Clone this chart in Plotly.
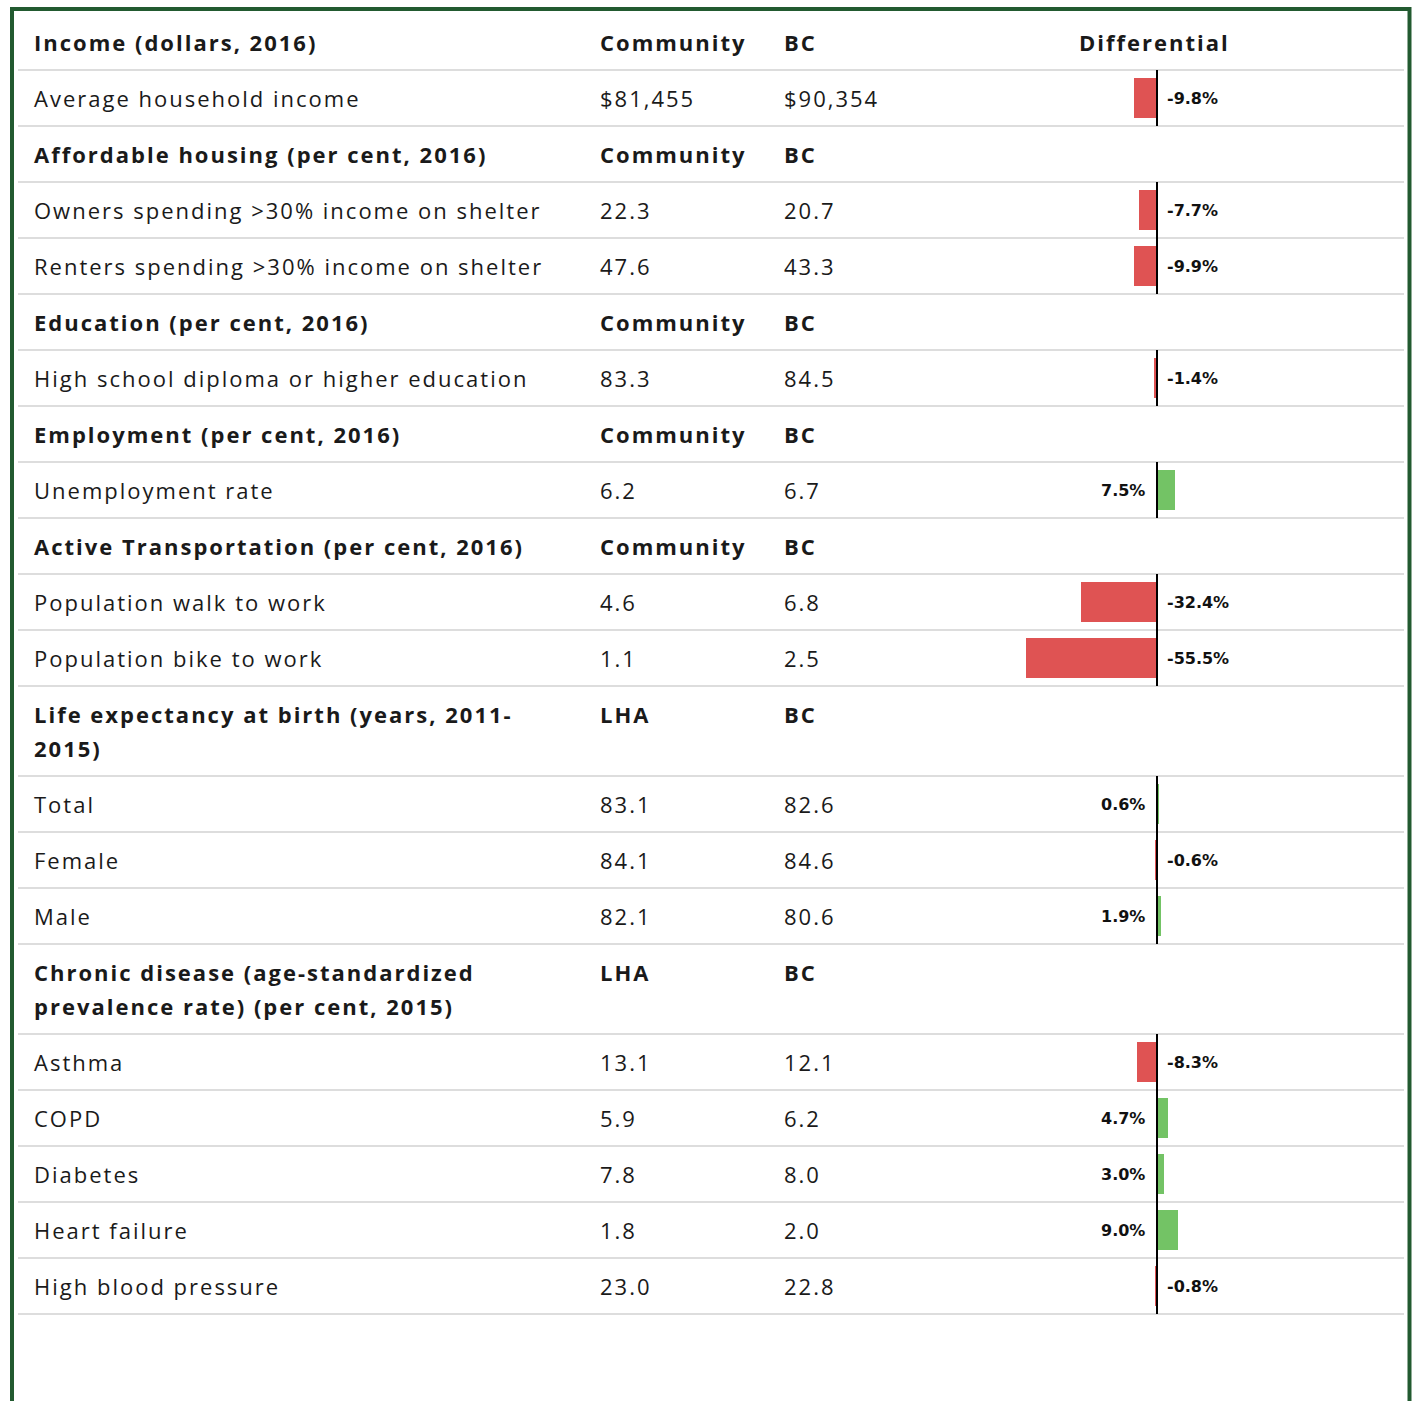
import plotly.graph_objects as go

# ---------------- data ----------------
row_labels = [
    "Income (dollars, 2016)",
    "Average household income",
    "Affordable housing (per cent, 2016)",
    "Owners spending >30% income on shelter",
    "Renters spending >30% income on shelter",
    "Education (per cent, 2016)",
    "High school diploma or higher education",
    "Employment (per cent, 2016)",
    "Unemployment rate",
    "Active Transportation (per cent, 2016)",
    "Population walk to work",
    "Population bike to work",
    "Life expectancy at birth (years, 2011-|2015)",
    "Total",
    "Female",
    "Male",
    "Chronic disease (age-standardized|prevalence rate) (per cent, 2015)",
    "Asthma",
    "COPD",
    "Diabetes",
    "Heart failure",
    "High blood pressure",
]
is_header = [True, False, True, False, False, True, False, True, False, True, False, False,
             True, False, False, False, True, False, False, False, False, False]
col_local = ["Community", "$81,455", "Community", "22.3", "47.6", "Community", "83.3",
             "Community", "6.2", "Community", "4.6", "1.1", "LHA", "83.1", "84.1", "82.1",
             "LHA", "13.1", "5.9", "7.8", "1.8", "23.0"]
col_bc = ["BC", "$90,354", "BC", "20.7", "43.3", "BC", "84.5", "BC", "6.7", "BC", "6.8", "2.5",
          "BC", "82.6", "84.6", "80.6", "BC", "12.1", "6.2", "8.0", "2.0", "22.8"]
col_diff_header = ["Differential"] + [""] * 21
differential = [None, -9.8, None, -7.7, -9.9, None, -1.4, None, 7.5, None, -32.4, -55.5,
                None, 0.6, -0.6, 1.9, None, -8.3, 4.7, 3.0, 9.0, -0.8]

# ---------------- layout constants (pixels) ----------------
W, H = 1414, 1401
TOP = 14
ONE_LINE = 56
LINE_STEP = 34
X_LABEL, X_LOCAL, X_BC, X_DIFF = 32, 598, 782, 1154
ZERO_PX = 1157
PX_PER_PCT = 2.36
BAR_H = 40
RED, GREEN = "#DF5353", "#73C365"
TEXT = "#1a1a1a"
FONT = "Open Sans"
BORDER = "#225A30"
SPACING = "letter-spacing:2px"

# row geometry
tops, bottoms, centers = [], [], []
y = TOP
for lab in row_labels:
    n = len(lab.split("|"))
    h = ONE_LINE + (n - 1) * LINE_STEP
    tops.append(y)
    bottoms.append(y + h)
    centers.append(y + h / 2)
    y += h

fig = go.Figure()

# bars
bar_y = [centers[i] for i, d in enumerate(differential) if d is not None]
bar_x = [d for d in differential if d is not None]
bar_c = [RED if d < 0 else GREEN for d in bar_x]
fig.add_trace(go.Bar(x=bar_x, y=bar_y, orientation="h", width=BAR_H,
                     marker=dict(color=bar_c, line=dict(width=0)),
                     hoverinfo="skip", showlegend=False))

# zero line segments for data rows
zx, zy = [], []
for i, d in enumerate(differential):
    if d is not None:
        zx += [0, 0, None]
        zy += [tops[i], bottoms[i], None]
fig.add_trace(go.Scatter(x=zx, y=zy, mode="lines", line=dict(color="black", width=2),
                         hoverinfo="skip", showlegend=False))

# separators
for b in bottoms:
    fig.add_shape(type="line", xref="paper", yref="y",
                  x0=18 / W, x1=1404 / W, y0=b, y1=b,
                  line=dict(color="#dddddd", width=2), layer="below")


def spaced(t):
    return f'<span style="{SPACING}">{t}</span>'


# texts
ann = []
for i, lab in enumerate(row_labels):
    hdr = is_header[i]
    weight = 700 if hdr else 400
    lines = lab.split("|")
    first_y = tops[i] + ONE_LINE / 2
    for k, ln in enumerate(lines):
        ann.append(dict(x=X_LABEL / W, xref="paper", y=first_y + k * LINE_STEP, yref="y",
                        text=spaced(ln), showarrow=False, xanchor="left", align="left",
                        yanchor="middle",
                        font=dict(family=FONT, size=22, color=TEXT, weight=weight)))
    for xpx, txt in ((X_LOCAL, col_local[i]), (X_BC, col_bc[i])):
        ann.append(dict(x=xpx / W, xref="paper", y=first_y, yref="y", text=spaced(txt),
                        showarrow=False, xanchor="left", align="left", yanchor="middle",
                        font=dict(family=FONT, size=22, color=TEXT, weight=weight)))
    if col_diff_header[i]:
        ann.append(dict(x=X_DIFF / W, xref="paper", y=first_y, yref="y",
                        text=spaced(col_diff_header[i]), showarrow=False, xanchor="center",
                        yanchor="middle",
                        font=dict(family=FONT, size=22, color=TEXT, weight=700)))
    d = differential[i]
    if d is not None:
        ann.append(dict(x=0, xref="x", y=centers[i], yref="y", text=f"{d:.1f}%",
                        showarrow=False, xanchor="left" if d < 0 else "right",
                        xshift=8 if d < 0 else -10, yanchor="middle",
                        font=dict(family="DejaVu Sans", size=16, color="#111111",
                                  weight=700)))

# border (open at the bottom, as in the source)
fig.add_shape(type="rect", xref="paper", yref="paper",
              x0=12 / W, x1=1409.5 / W, y0=1 - 9 / H, y1=-0.05,
              line=dict(color=BORDER, width=4), fillcolor="rgba(0,0,0,0)")

fig.update_layout(
    width=W, height=H, margin=dict(l=0, r=0, t=0, b=0),
    paper_bgcolor="white", plot_bgcolor="white",
    annotations=ann, bargap=0,
    xaxis=dict(range=[-ZERO_PX / PX_PER_PCT, (W - ZERO_PX) / PX_PER_PCT], visible=False,
               fixedrange=True),
    yaxis=dict(range=[H, 0], visible=False, fixedrange=True),
)

fig.write_html(
    "out.html",
    config={"displayModeBar": False},
    post_script="document.body.style.margin='0';document.body.style.overflow='hidden';",
)
